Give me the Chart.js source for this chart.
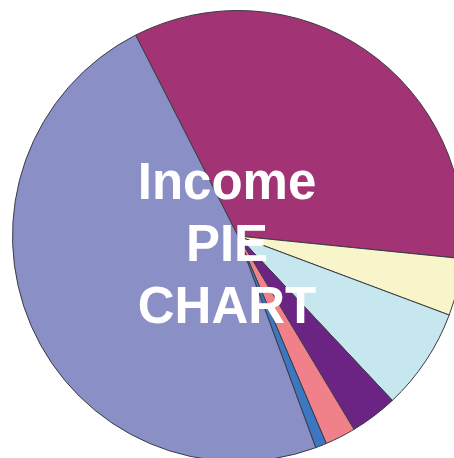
<!DOCTYPE html>
<html>
<head>
<meta charset="utf-8">
<script src="https://cdn.jsdelivr.net/npm/chart.js@4/dist/chart.umd.min.js"></script>
<style>
  html, body { margin: 0; padding: 0; background: #fff; }
  #wrap { position: relative; width: 454px; height: 458px; overflow: hidden; }
  #pie { position: absolute; left: 0; top: 0; }
  #label {
    position: absolute; left: 0; top: 151px; width: 454px;
    text-align: center; color: #fff;
    font-family: "Liberation Sans", Arial, sans-serif; font-weight: bold;
    font-size: 51px; line-height: 62px;
  }
</style>
</head>
<body>
<div id="wrap">
  <canvas id="pie" width="476" height="462"></canvas>
  <div id="label">Income<br>PIE<br>CHART</div>
</div>
<script>
// slice shares in percent (clockwise from the magenta one)
var income_labels = ["Salaries", "Rent", "Interest", "Dividends", "Royalties", "Other", "Business"];
var income_data = [34.1, 4.1, 7.3, 3.4, 2.2, 0.8, 48.1];
var income_colors = ["#a23374", "#f8f5cb", "#c7e7ee", "#6b2384", "#f0808a", "#3b78c1", "#8a8fc6"];

var ctx = document.getElementById('pie');

var pieData = {
    labels: income_labels,
    datasets: [
        {
            data: income_data,
            backgroundColor: income_colors,
            borderColor: "#3a3a44",
            borderWidth: 1
        }]
};

var pieOpts = {
    responsive: false,
    animation: false,
    rotation: -27,
    layout: {
        padding: { left: 12, right: 12, top: 10, bottom: 0 }
    },
    plugins: {
        legend: { display: false },
        tooltip: { enabled: false }
    }
};

var myChart = new Chart(ctx, {
    type: 'pie',
    data: pieData,
    options: pieOpts
});
</script>
</body>
</html>
